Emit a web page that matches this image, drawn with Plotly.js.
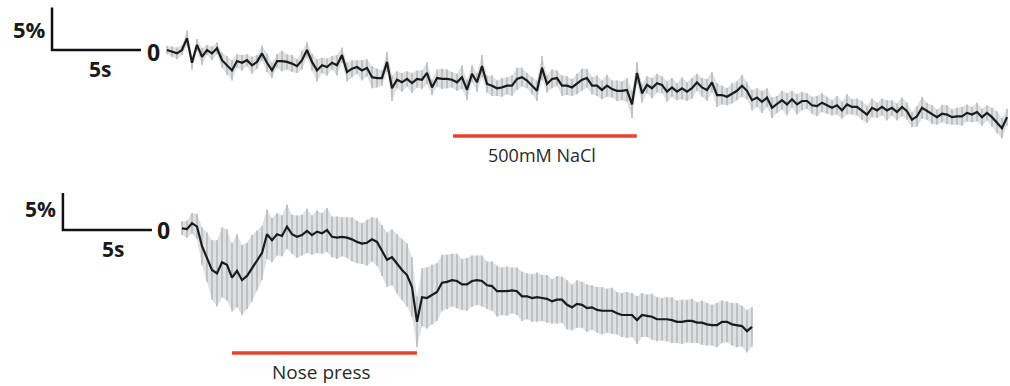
<!DOCTYPE html>
<html>
<head>
<meta charset="utf-8">
<script src="https://cdn.plot.ly/plotly-3.0.1.min.js"></script>
<style>html,body{margin:0;padding:0;background:#fff;}#chart{width:1010px;height:386px;}</style>
</head>
<body>
<div id="chart"></div>
<script>
// ---- DATA (dF/F in %, sampled every DT seconds) ----
const DT = 0.2809; // seconds per sample

// Top trace: 500mM NaCl
const topValues = [0.0,-0.2,-0.4,0.0,1.4,-1.5,0.6,-0.8,0.0,-0.4,0.2,-1.2,-1.8,-2.4,-1.3,-1.5,-1.2,-1.8,-1.4,-0.4,
-1.5,-2.4,-1.3,-1.3,-1.4,-1.6,-1.9,-1.2,0.0,-1.4,-2.4,-1.8,-2.0,-1.5,-1.8,-0.6,-2.6,-2.2,-2.0,-2.4,
-2.1,-3.2,-3.3,-3.3,-1.4,-4.5,-3.5,-3.8,-3.4,-3.9,-3.4,-3.5,-2.7,-4.4,-3.3,-3.4,-3.4,-3.5,-3.8,-3.2,
-4.7,-2.8,-3.8,-1.9,-4.0,-4.2,-4.5,-4.4,-4.2,-4.2,-3.4,-3.2,-3.6,-4.2,-4.8,-2.1,-4.0,-3.4,-3.3,-4.2,
-4.2,-4.4,-4.0,-3.5,-3.3,-4.2,-4.2,-4.7,-4.2,-4.6,-4.8,-4.8,-4.7,-6.4,-2.7,-5.1,-4.1,-4.5,-3.9,-4.1,
-4.9,-4.4,-4.9,-4.5,-4.9,-4.5,-3.8,-4.4,-4.7,-3.8,-5.3,-5.3,-5.5,-5.1,-4.8,-4.2,-4.8,-5.9,-5.6,-6.1,
-5.6,-6.8,-6.4,-5.9,-6.4,-5.8,-6.4,-6.0,-6.0,-6.5,-6.6,-6.2,-6.5,-6.8,-6.5,-7.1,-6.4,-6.7,-6.7,-7.1,
-7.6,-6.8,-7.1,-6.7,-7.1,-6.8,-7.3,-6.7,-7.2,-8.2,-7.8,-6.8,-7.2,-7.6,-7.9,-7.5,-7.6,-7.9,-7.8,-7.8,
-7.4,-7.6,-7.3,-7.9,-7.4,-7.9,-8.5,-9.2,-7.9];
const topErr = [0.5,0.6,0.7,0.6,0.9,0.8,0.7,1.0,0.6,0.8,0.7,0.9,1.1,1.2,0.8,0.9,0.7,1.0,0.8,0.9,
1.1,0.9,0.8,1.2,0.9,1.0,0.8,1.1,0.9,1.0,1.3,0.9,1.0,0.8,1.2,0.9,1.1,1.0,0.8,1.2,
1.0,1.3,1.1,0.9,1.2,1.5,1.0,1.1,0.9,1.2,1.0,1.1,1.3,0.9,1.0,1.2,1.1,0.9,1.0,1.4,
1.2,1.0,1.1,1.3,1.0,1.2,0.9,1.1,1.0,1.2,1.3,1.1,0.9,1.0,1.2,1.4,1.0,1.1,0.9,1.2,
1.1,1.0,1.2,1.3,1.1,1.0,1.2,1.1,1.3,1.0,1.2,1.1,1.4,1.6,1.3,1.1,1.0,1.2,1.1,1.0,
1.2,1.1,1.0,1.3,1.1,1.2,1.0,1.1,1.3,1.2,1.4,1.1,1.0,1.2,1.1,1.3,1.0,1.2,1.1,1.3,
1.1,1.2,1.0,1.1,1.3,1.0,1.2,1.1,0.9,1.0,1.2,1.1,1.0,0.9,1.1,1.0,1.2,0.9,1.0,1.1,
1.0,1.1,0.9,1.0,1.2,0.9,1.0,1.1,1.0,0.9,1.2,1.3,1.0,1.1,0.9,1.0,1.1,0.9,1.0,1.1,
1.0,0.9,1.1,1.0,0.9,1.1,1.3,1.2,1.0];

// Bottom trace: nose press
const botValues = [0.2,0.1,0.8,0.4,-1.9,-3.2,-4.7,-5.1,-3.8,-4.1,-5.6,-4.8,-5.9,-5.4,-4.5,-3.6,-2.7,-0.5,-1.2,-0.5,
-0.7,0.4,-0.5,-0.8,-0.6,-0.1,-0.6,-0.2,-0.4,0.0,-0.8,-0.9,-0.8,-0.9,-1.1,-1.4,-1.6,-1.5,-1.1,-1.4,
-2.4,-3.5,-3.2,-4.0,-4.7,-5.3,-6.7,-10.8,-7.9,-8.0,-7.6,-7.3,-6.2,-6.1,-5.9,-6.0,-6.4,-6.4,-6.0,-5.9,
-6.0,-6.5,-6.6,-7.2,-7.2,-7.2,-7.1,-7.2,-7.8,-7.8,-8.0,-7.9,-8.0,-8.1,-8.4,-8.2,-8.2,-8.8,-9.1,-8.7,
-8.8,-9.2,-9.1,-9.4,-9.5,-9.5,-9.5,-9.8,-10.0,-10.0,-10.0,-10.6,-10.0,-10.1,-10.2,-10.5,-10.5,-10.5,-10.6,-10.8,
-10.8,-10.7,-10.7,-10.9,-10.9,-11.1,-11.2,-11.2,-10.8,-10.8,-11.1,-11.2,-11.3,-11.9,-11.4];
const botErr = [0.8,1.0,1.2,1.5,2.2,
2.9,3.5,3.9,4.1,4.2,4.0,4.3,4.1,3.9,3.9,3.5,3.2,
2.9,2.6,2.5,2.4,2.6,2.3,2.5,2.4,2.6,2.3,2.5,2.4,2.6,2.4,2.5,2.3,2.4,2.6,2.5,2.4,2.7,2.6,2.8,
3.0,3.2,3.3,3.5,3.6,3.7,3.5,3.0,
3.4,3.6,3.5,3.4,3.3,3.2,3.1,3.2,3.0,3.1,3.0,2.9,
3.0,2.8,2.9,3.0,2.8,2.9,2.7,2.8,2.9,2.7,2.8,2.9,2.7,2.8,2.6,2.8,2.7,2.9,2.7,2.8,
2.7,2.8,2.6,2.7,2.8,2.6,2.7,2.5,2.6,2.7,2.6,2.8,2.6,2.5,2.7,2.6,2.5,2.6,2.7,2.5,
2.6,2.5,2.6,2.4,2.6,2.5,2.4,2.6,2.5,2.4,2.5,2.6,2.4,2.5,2.3];

// Scale bars and stimulus windows (seconds / percent)
const scaleSeconds = 5;
const scalePercent = 5;
const stimTop = [16.07, 26.4];
const stimBottom = [2.81, 13.2];
const stimLabels = ['500mM NaCl', 'Nose press'];

// ---- BUILD ----
const tTop = topValues.map((_, i) => i * DT);
const tBot = botValues.map((_, i) => i * DT);
const GRAY = '#b3b8bb';
const BAND = 'rgba(200,204,207,0.6)';
const LINE = '#1b1b1b';

function band(t, v, e, xa, ya) {
  const up = v.map((y, i) => y + e[i]);
  const lo = v.map((y, i) => y - e[i]);
  return {
    x: t.concat(t.slice().reverse()),
    y: up.concat(lo.slice().reverse()),
    xaxis: xa, yaxis: ya, mode: 'lines', fill: 'toself',
    fillcolor: BAND, line: {width: 0}, hoverinfo: 'skip'
  };
}
function bars(t, v, e, xa, ya) {
  return {
    x: t, y: v, xaxis: xa, yaxis: ya, mode: 'markers',
    marker: {size: 1, color: 'rgba(0,0,0,0)'},
    error_y: {type: 'data', array: e, visible: true, color: GRAY, thickness: 1.5, width: 0},
    hoverinfo: 'skip'
  };
}
function trace(t, v, xa, ya) {
  return {x: t, y: v, xaxis: xa, yaxis: ya, mode: 'lines',
    line: {color: LINE, width: 2.2}, hoverinfo: 'skip'};
}
function scaleBar(x0, xa, ya) {
  return {x: [x0, x0, x0 + scaleSeconds], y: [scalePercent, 0, 0],
    xaxis: xa, yaxis: ya, mode: 'lines',
    line: {color: '#111', width: 2.5}, hoverinfo: 'skip'};
}

const data = [
  band(tTop, topValues, topErr, 'x', 'y'),
  bars(tTop, topValues, topErr, 'x', 'y'),
  trace(tTop, topValues, 'x', 'y'),
  scaleBar(-6.46, 'x', 'y'),
  band(tBot, botValues, botErr, 'x2', 'y2'),
  bars(tBot, botValues, botErr, 'x2', 'y2'),
  trace(tBot, botValues, 'x2', 'y2'),
  scaleBar(-6.69, 'x2', 'y2')
];

const FONT = '"Open Sans", "Noto Sans", Arial, sans-serif';
const hidden = {visible: false, showgrid: false, zeroline: false, fixedrange: true};
function ann(text, x, y, size, bold, xanchor) {
  return {text: bold ? '<b>' + text + '</b>' : text, x: x, y: y, xref: 'paper', yref: 'paper',
    xanchor: xanchor || 'center', yanchor: 'middle', showarrow: false,
    font: {family: FONT, size: size, color: bold ? '#1a1a1a' : '#2a2a2a'}};
}

const layout = {
  width: 1010, height: 386, autosize: false,
  margin: {l: 0, r: 0, t: 0, b: 0, pad: 0},
  paper_bgcolor: '#fff', plot_bgcolor: '#fff',
  showlegend: false,
  xaxis: Object.assign({}, hidden, {domain: [0, 1], range: [-9.382, 47.360], anchor: 'y'}),
  yaxis: Object.assign({}, hidden, {domain: [0.5, 1], range: [-16.824, 5.882], anchor: 'x'}),
  xaxis2: Object.assign({}, hidden, {domain: [0, 1], range: [-10.225, 46.517], anchor: 'y2'}),
  yaxis2: Object.assign({}, hidden, {domain: [0, 0.5], range: [-18.353, 4.353], anchor: 'x2'}),
  shapes: [
    {type: 'line', xref: 'x', yref: 'paper', x0: stimTop[0], x1: stimTop[1], y0: 0.6477, y1: 0.6477,
     line: {color: '#e8432f', width: 3.5}},
    {type: 'line', xref: 'x2', yref: 'paper', x0: stimBottom[0], x1: stimBottom[1], y0: 0.0855, y1: 0.0855,
     line: {color: '#e8432f', width: 3.5}}
  ],
  annotations: [
    ann('5%', 0.0475, 0.9236, 22, true, 'right'),
    ann('5s', 0.0995, 0.8212, 21, true),
    ann('0', 0.152, 0.8653, 23, true),
    ann('5%', 0.0574, 0.4598, 21, true, 'right'),
    ann('5s', 0.1114, 0.3562, 21, true),
    ann('0', 0.1619, 0.4041, 23, true),
    ann(stimLabels[0], 0.5371, 0.5984, 18, false),
    ann(stimLabels[1], 0.3188, 0.035, 19, false)
  ]
};

Plotly.newPlot('chart', data, layout, {displayModeBar: false, staticPlot: true});
</script>
</body>
</html>
